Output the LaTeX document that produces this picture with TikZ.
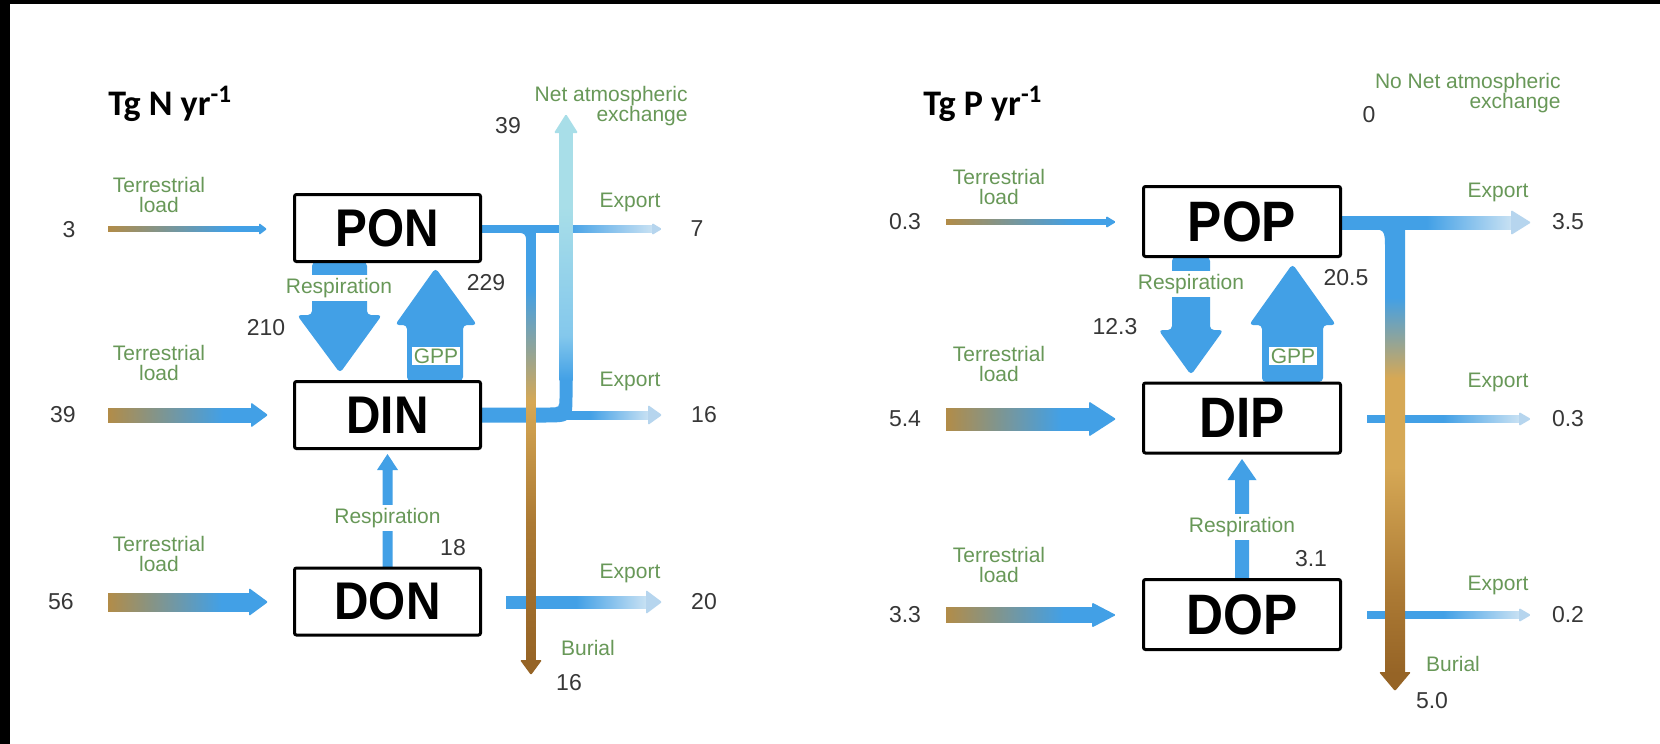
\documentclass[tikz,border=0pt]{standalone}
\usepackage{fontspec}
\setmainfont{Liberation Sans}
\newfontfamily\boxfont[FakeStretch=0.9]{Liberation Sans}
\newfontfamily\titlefont{Carlito}
\definecolor{fb}{RGB}{66,160,230}
\definecolor{fpale}{RGB}{200,225,243}
\definecolor{hpale}{RGB}{182,213,238}
\definecolor{lb}{RGB}{132,200,236}
\definecolor{cyanL}{RGB}{168,222,232}
\definecolor{tanL}{RGB}{178,140,72}
\definecolor{tanB}{RGB}{214,168,85}
\definecolor{brownM}{RGB}{172,122,52}
\definecolor{brownD}{RGB}{150,100,38}
\definecolor{lgreen}{RGB}{104,152,88}
\definecolor{numgray}{RGB}{55,55,55}
\pgfdeclarehorizontalshading{expfade}{100bp}{color(0bp)=(fb); color(25bp)=(fb); color(50bp)=(fb); color(75bp)=(fpale); color(100bp)=(fpale)}
\pgfdeclarehorizontalshading{terr}{100bp}{color(0bp)=(tanL); color(25bp)=(tanL); color(65bp)=(fb); color(100bp)=(fb)}
\pgfdeclareverticalshading{cyanup}{100bp}{color(0bp)=(fb); color(25bp)=(fb); color(34bp)=(lb); color(60bp)=(cyanL); color(100bp)=(cyanL)}
\pgfdeclareverticalshading{burN}{100bp}{color(0bp)=(brownD); color(25bp)=(brownD); color(41bp)=(brownM); color(55bp)=(tanB); color(68bp)=(fb); color(100bp)=(fb)}
\pgfdeclareverticalshading{burP}{100bp}{color(0bp)=(brownD); color(25bp)=(brownD); color(34bp)=(brownM); color(48bp)=(tanB); color(58bp)=(tanB); color(67bp)=(fb); color(100bp)=(fb)}
\newcommand{\HArr}[8]{%
  \shade[shading=#1] (#2,{#5-#6}) rectangle ({#3+0.5},{#5+#6});
  \fill[#8, rounded corners=0.6pt] (#3,{#5-#7}) -- (#4,#5) -- (#3,{#5+#7}) -- cycle;}
\tikzset{
  lbl/.style={text=lgreen, font=\fontsize{10.5pt}{10pt}\selectfont, align=center, inner sep=0pt},
  num/.style={text=numgray, font=\fontsize{11.5pt}{12pt}\selectfont, inner sep=0pt},
  boxN/.style={draw=black, line width=1.5pt, fill=white, rounded corners=1pt, minimum width=93pt, minimum height=33.5pt, inner sep=0pt, font=\boxfont\bfseries\fontsize{26.5pt}{30pt}\selectfont},
  boxP/.style={boxN, minimum width=98.5pt, minimum height=35pt, font=\boxfont\bfseries\fontsize{28.5pt}{32pt}\selectfont},
  title/.style={font=\titlefont\bfseries\fontsize{18pt}{20pt}\selectfont, inner sep=0pt, anchor=base west},
  whitelbl/.style={lbl, fill=white, inner sep=1.5pt}
}
\begin{document}
\begin{tikzpicture}[x=0.5pt,y=-0.5pt]
\useasboundingbox (0,0) rectangle (1660,744);
\fill[white] (0,0) rectangle (1660,744);
\fill[black] (0,0) rectangle (1660,4);
\fill[black] (0,0) rectangle (10,744);

% ================= LEFT PANEL (N) =================
% terrestrial loads
\HArr{terr}{108}{259}{267}{229}{2.5}{6}{fb}
\HArr{terr}{108}{251}{268}{415}{7}{12.5}{fb}
\HArr{terr}{108}{249}{268}{602}{9}{14}{fb}
% exports
\HArr{expfade}{482}{652}{662}{229}{3.5}{6}{hpale}
\HArr{expfade}{530}{648}{662}{415}{4}{10}{hpale}
\HArr{expfade}{506}{646}{662}{602}{6}{12}{hpale}
% DIN thick outflow curving up to atmosphere
\fill[fb] (482,407.5) -- (549.5,407.5) .. controls (559.5,407.5) .. (559.5,397.5) -- (559.5,378) -- (572.5,378) -- (572.5,392.5) .. controls (572.5,422.5) .. (542.5,422.5) -- (482,422.5) -- cycle;
\shade[shading=cyanup] (559.5,132) rectangle (572.5,380);
\fill[cyanL, rounded corners=0.6pt] (554,133) -- (566,114) -- (578,133) -- cycle;
% burial from PON
\fill[fb] (510,232.5) .. controls (526.5,232.5) .. (526.5,249) -- (526.5,232) -- cycle;
\shade[shading=burN] (526.5,229) rectangle (535.5,661);
\fill[brownD, rounded corners=0.6pt] (520,660) -- (542,660) -- (531,675) -- cycle;
% respiration PON -> DIN
\fill[fb, rounded corners=2pt] (312,262) -- (367,262) -- (367,315) -- (382,315) -- (340,373) -- (297,315) -- (312,315) -- cycle;
% GPP DIN -> PON
\fill[fb, rounded corners=2pt] (407,381) -- (407,325) -- (395,325) -- (435.5,268) -- (477,325) -- (463,325) -- (463,381) -- cycle;
% respiration DON -> DIN
\fill[fb] (382.5,568) -- (382.5,470) -- (377,470) -- (387.5,454) -- (398,470) -- (392.5,470) -- (392.5,568) -- cycle;
% boxes
\node[boxN] (PON) at (387.5,228) {PON};
\node[boxN] (DIN) at (387.5,415) {DIN};
\node[boxN] (DON) at (387.5,601.5) {DON};
% texts
\node[title] (tN) at (108,115) {Tg N yr\textsuperscript{-1}};
\node[lbl] (tl1) at (159,195) {Terrestrial\\load};
\node[lbl] (tl2) at (159,363) {Terrestrial\\load};
\node[lbl] (tl3) at (159,554) {Terrestrial\\load};
\node[num] (n3) at (69,230) {3};
\node[num] (n39) at (63,415) {39};
\node[num] (n56) at (61,602) {56};
\node[lbl] (ex1) at (630,202) {Export};
\node[lbl] (ex2) at (630,381) {Export};
\node[lbl] (ex3) at (630,573) {Export};
\node[num] (n7) at (697,229) {7};
\node[num] (n16) at (704,415) {16};
\node[num] (n20) at (704,602) {20};
\node[lbl, align=right, anchor=east] (net) at (688,106) {Net atmospheric\\exchange};
\node[num] (n39b) at (508,126) {39};
\node[lbl] (bur) at (588,648) {Burial};
\node[num] (n16b) at (569,683) {16};
\node[whitelbl] (resp1) at (339,288) {Respiration};
\node[num] (n210) at (266,328) {210};
\node[num] (n229) at (486,283) {229};
\node[lbl, fill=white, inner sep=1pt] (gpp1) at (436,356) {GPP};
\node[whitelbl] (resp2) at (387.5,518) {Respiration};
\node[num] (n18) at (453,548) {18};

% ================= RIGHT PANEL (P) =================
\HArr{terr}{946}{1106}{1116}{222}{2.5}{6}{fb}
\HArr{terr}{946}{1089}{1116}{419}{11}{17.5}{fb}
\HArr{terr}{946}{1092}{1116}{615}{7.5}{12.5}{fb}
\HArr{expfade}{1342}{1511}{1531}{222.5}{6.5}{12.5}{hpale}
\HArr{expfade}{1367}{1519}{1531}{419}{3.5}{7}{hpale}
\HArr{expfade}{1367}{1519}{1531}{615}{3.5}{7}{hpale}
% burial from POP
\fill[fb] (1365,229) .. controls (1385,229) .. (1385,249) -- (1385,228) -- cycle;
\shade[shading=burP] (1385,226) rectangle (1405,673);
\fill[brownD, rounded corners=0.6pt] (1379,672) -- (1411,672) -- (1395,691) -- cycle;
% respiration POP -> DIP
\fill[fb, rounded corners=2pt] (1172,257) -- (1210,257) -- (1210,330) -- (1223.5,330) -- (1191,375) -- (1158.5,330) -- (1172,330) -- cycle;
% GPP DIP -> POP
\fill[fb, rounded corners=2pt] (1262,382) -- (1262,325) -- (1249,325) -- (1292.5,264) -- (1336,325) -- (1323,325) -- (1323,382) -- cycle;
% respiration DOP -> DIP
\fill[fb] (1235,579) -- (1235,480) -- (1227.5,480) -- (1242,459) -- (1256.5,480) -- (1249,480) -- (1249,579) -- cycle;
% boxes
\node[boxP] (POP) at (1242,221.5) {POP};
\node[boxP] (DIP) at (1242,418) {DIP};
\node[boxP] (DOP) at (1242,614.5) {DOP};
% texts
\node[title] (tP) at (923,115) {Tg P yr\textsuperscript{-1}};
\node[lbl] (tr1) at (999,187) {Terrestrial\\load};
\node[lbl] (tr2) at (999,364) {Terrestrial\\load};
\node[lbl] (tr3) at (999,565) {Terrestrial\\load};
\node[num] (p03) at (905,222) {0.3};
\node[num] (p54) at (905,419) {5.4};
\node[num] (p33) at (905,615) {3.3};
\node[lbl] (pex1) at (1498,192) {Export};
\node[lbl] (pex2) at (1498,382) {Export};
\node[lbl] (pex3) at (1498,585) {Export};
\node[num] (p35) at (1568,222) {3.5};
\node[num] (p03b) at (1568,419) {0.3};
\node[num] (p02) at (1568,615) {0.2};
\node[lbl, align=right, anchor=east] (pnet) at (1561,93) {No Net atmospheric\\exchange};
\node[num] (p0) at (1369,115) {0};
\node[lbl] (pbur) at (1453,664) {Burial};
\node[num] (p50) at (1432,701) {5.0};
\node[whitelbl] (presp1) at (1191,284) {Respiration};
\node[num] (p123) at (1115,327) {12.3};
\node[num] (p205) at (1346,278) {20.5};
\node[lbl, fill=white, inner sep=1pt] (gpp2) at (1293,356) {GPP};
\node[whitelbl] (presp2) at (1242,527) {Respiration};
\node[num] (p31) at (1311,559) {3.1};
\end{tikzpicture}
\end{document}
